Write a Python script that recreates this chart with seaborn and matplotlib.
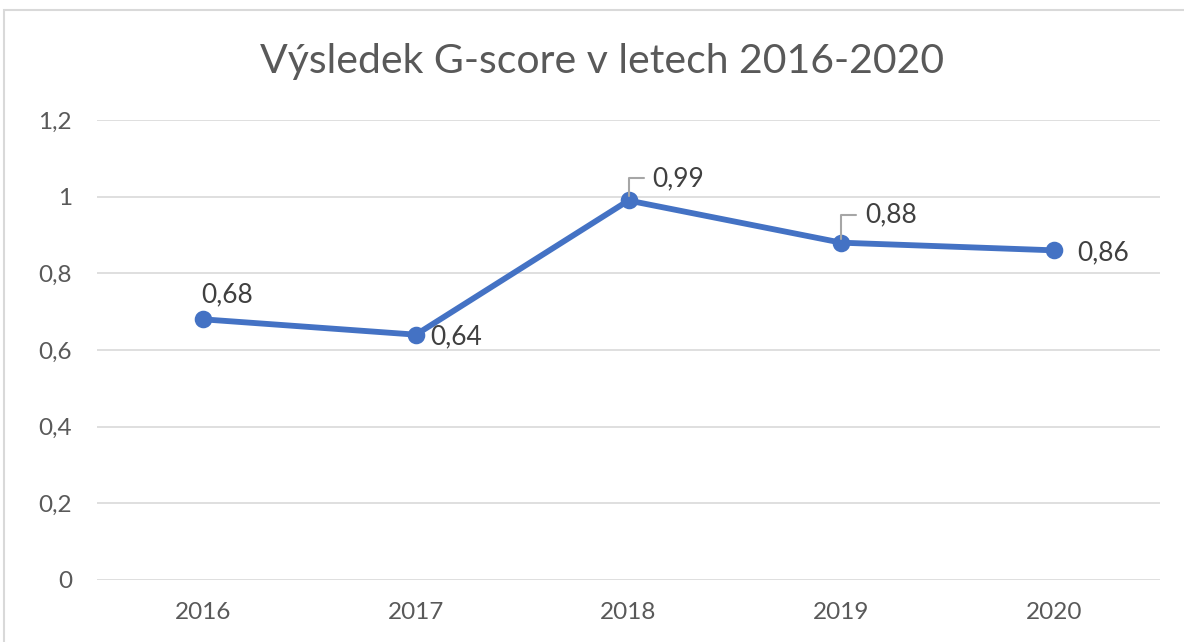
import pandas as pd
import matplotlib.pyplot as plt
import seaborn as sns
from matplotlib.patches import Rectangle

# Data
years = ["2016", "2017", "2018", "2019", "2020"]
gscore = [0.68, 0.64, 0.99, 0.88, 0.86]
yticks = [0, 0.2, 0.4, 0.6, 0.8, 1.0, 1.2]

df = pd.DataFrame({"rok": years, "gscore": gscore})

sns.set_style("white")
plt.rcParams["font.family"] = ["Lato", "DejaVu Sans"]

fig = plt.figure(figsize=(11.84, 6.42), dpi=100)
ax = fig.add_axes([97 / 1184, 62 / 642, 1063 / 1184, 460 / 642])

sns.pointplot(data=df, x="rok", y="gscore", color="#4472C4", markers="o",
              markersize=9.5, linewidth=4.2, errorbar=None, ax=ax)

ax.set_xlim(-0.5, 4.5)
ax.set_ylim(0, 1.2)
ax.set_yticks(yticks)
ax.set_yticklabels([f"{v:g}".replace(".", ",") for v in yticks])
ax.grid(axis="y", color="#D9D9D9", linewidth=1.2)
ax.set_axisbelow(True)
for s in ax.spines.values():
    s.set_visible(False)
ax.tick_params(axis="x", length=0, pad=16, labelsize=17.5, labelcolor="#595959")
ax.tick_params(axis="y", length=0, pad=18, labelsize=17.5, labelcolor="#595959")
ax.set_xlabel("")
ax.set_ylabel("")

# data labels (offsets in pixels -> points)
px = 72 / 100
offsets = [(24, 25, "center", None), (14, -2, "left", None),
           (24, 22, "left", True), (24, 28, "left", True), (24, -2, "left", None)]
for i, (v, (dx, dy, ha, lead)) in enumerate(zip(gscore, offsets)):
    lbl = f"{v:.2f}".replace(".", ",")
    kw = {}
    if lead:
        kw["arrowprops"] = dict(arrowstyle="-", color="#A6A6A6", lw=1.5,
                                connectionstyle="angle,angleA=0,angleB=90,rad=0",
                                shrinkA=4, shrinkB=3)
    ax.annotate(lbl, xy=(i, v), xytext=(dx * px, dy * px), textcoords="offset points",
                ha=ha, va="center", fontsize=19, color="#404040", **kw)

fig.text(602 / 1184, 1 - 62 / 642, "Výsledek G-score v letech 2016-2020",
         ha="center", va="center", fontsize=29.5, color="#595959")

# chart frame
fig.patches.append(Rectangle((4 / 1184, -0.1), 1.2, 1 - 10 / 642 + 0.1,
                             transform=fig.transFigure, fill=False,
                             edgecolor="#D9D9D9", linewidth=1.5))

fig.savefig("out.png", dpi=100)
